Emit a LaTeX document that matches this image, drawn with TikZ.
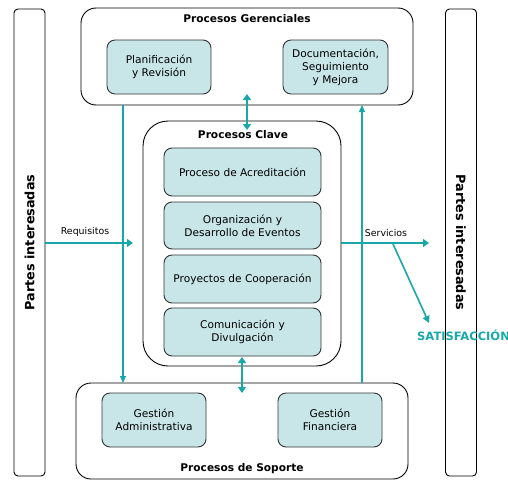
\documentclass[tikz,border=0pt]{standalone}
\usepackage{fontspec}
\setmainfont{DejaVu Sans}
\usetikzlibrary{arrows.meta,positioning}
\definecolor{teal1}{HTML}{19A7A8}
\definecolor{boxfill}{HTML}{C8E5E8}
\definecolor{edge}{HTML}{333333}
\tikzset{
  group/.style={draw=black, line width=0.9pt, rounded corners=15pt, outer sep=0pt, inner sep=0pt},
  proc/.style={draw=edge, line width=0.9pt, fill=boxfill, rounded corners=8pt, outer sep=0pt, inner sep=0pt, align=center, font=\fontsize{10.6}{13}\selectfont},
  side/.style={draw=black, line width=0.9pt, rounded corners=4pt, outer sep=0pt, minimum width=31pt, minimum height=467pt},
  title/.style={font=\bfseries\fontsize{10.6}{12}\selectfont},
  sidetext/.style={font=\bfseries\fontsize{12.8}{15}\selectfont},
  thick arrow/.style={draw=teal1, line width=2.8pt, -{Triangle[length=6pt,width=8pt]}},
  dbl arrow/.style={draw=teal1, line width=2.8pt, {Triangle[length=6pt,width=8pt]}-{Triangle[length=6pt,width=8pt]}},
  thin arrow/.style={draw=teal1, line width=1.2pt, -{Triangle[length=7pt,width=6pt]}},
  lbl/.style={font=\fontsize{9.4}{11}\selectfont},
}
\begin{document}
\begin{tikzpicture}[x=1pt,y=-1pt]
\useasboundingbox (0,0) rectangle (508,479);
% side boxes
\node[side] (left) at (29.5,242.5) {};
\node[side] (right) at (461,242.5) {};
\node[sidetext, rotate=90] (lt) at (left.center) {Partes interesadas};
\node[sidetext, rotate=-90] (rt) at (right.center) {Partes interesadas};
% groups
\node[group, minimum width=332pt, minimum height=97pt] (ger) at (247,56.5) {};
\node[title, anchor=north] (gert) at (247,11) {Procesos Gerenciales};
\node[group, rounded corners=25pt, minimum width=198pt, minimum height=245pt] (clave) at (242,243.5) {};
\node[title, anchor=north] (clavet) at (243,127) {Procesos Clave};
\node[group, minimum width=332pt, minimum height=96pt] (sop) at (242,431) {};
\node[title, anchor=south] (sopt) at (242,477) {Procesos de Soporte};
% process boxes
\node[proc, minimum width=104pt, minimum height=54pt] (plan) at (159,67) {Planificación\\y Revisión};
\node[proc, minimum width=105pt, minimum height=54pt] (doc) at (335.5,67) {Documentación,\\Seguimiento\\y Mejora};
\node[proc, minimum width=157pt, minimum height=48pt] (acr) at (242.5,172) {Proceso de Acreditación};
\node[proc, minimum width=157pt, minimum height=47pt] (org) at (242.5,225.5) {Organización y\\Desarrollo de Eventos};
\node[proc, minimum width=157pt, minimum height=48pt] (coop) at (242.5,279) {Proyectos de Cooperación};
\node[proc, minimum width=157pt, minimum height=48pt] (com) at (242.5,332) {Comunicación y\\Divulgación};
\node[proc, minimum width=104pt, minimum height=54pt] (adm) at (154,420) {Gestión\\Administrativa};
\node[proc, minimum width=104pt, minimum height=54pt] (fin) at (330,420) {Gestión\\Financiera};
% connectors
\coordinate (d1a) at (247,94);
\coordinate (d1b) at (247,130);
\draw[dbl arrow] (d1a) -- (d1b);
\coordinate (d2a) at (242,357);
\coordinate (d2b) at (242,393);
\draw[dbl arrow] (d2a) -- (d2b);
\draw[thin arrow] (ger.south -| 123,0) -- (sop.north -| 123,0);
\draw[thin arrow] (sop.north -| 362,0) -- (ger.south -| 362,0);
\coordinate (req) at (133,243);
\draw[thick arrow] (left.east |- req) -- (req);
\node[lbl, anchor=south] (reql) at (85,240) {Requisitos};
\coordinate (serv) at (429,243);
\draw[thick arrow] (clave.east |- serv) -- (serv);
\node[lbl, anchor=south] (servl) at (386,240) {Servicios};
\coordinate (sa) at (393,244);
\coordinate (sb) at (429,323);
\draw[draw=teal1, line width=1.6pt, -{Triangle[length=7pt,width=7pt]}] (sa) -- (sb);
\node[font=\bfseries\fontsize{11.5}{13}\selectfont, text=teal1, anchor=west, inner sep=0pt] (sat) at (417,335) {SATISFACCIÓN};
\end{tikzpicture}
\end{document}
